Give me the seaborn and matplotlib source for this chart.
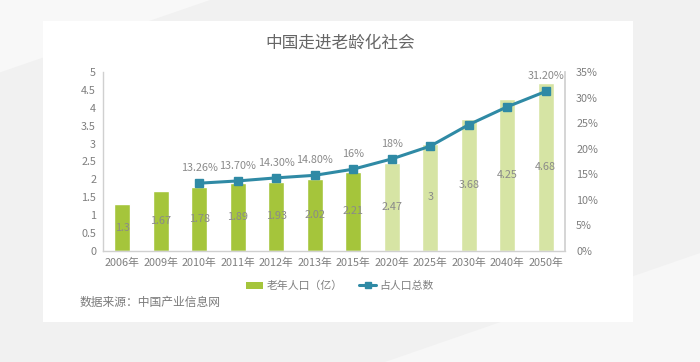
import matplotlib
matplotlib.use("Agg")
import matplotlib.pyplot as plt
import seaborn as sns
import numpy as np
from matplotlib.patches import Rectangle, Polygon
from matplotlib.lines import Line2D

years = ["2006年", "2009年", "2010年", "2011年", "2012年", "2013年", "2015年",
         "2020年", "2025年", "2030年", "2040年", "2050年"]
elderly = [1.3, 1.67, 1.78, 1.89, 1.93, 2.02, 2.21, 2.47, 3, 3.68, 4.25, 4.68]
pct_years = ["2010年", "2011年", "2012年", "2013年", "2015年",
             "2020年", "2025年", "2030年", "2040年", "2050年"]
pct = [13.26, 13.70, 14.30, 14.80, 16, 18, 20.5, 24.7, 28.2, 31.2]
pct_labels = ["13.26%", "13.70%", "14.30%", "14.80%", "16%", "18%", "", "", "", "31.20%"]

sns.set_theme(style="white")
plt.rcParams['font.family'] = ['Noto Sans CJK SC', 'DejaVu Sans']

dark = "#a5c53b"
light = "#d6e4a4"
line_c = "#2f8aa5"
txt = "#7f7f7f"
colors = [dark] * 7 + [light] * 5
fs = 7.8

fig = plt.figure(figsize=(7, 3.62), dpi=100)
fig.patch.set_facecolor("#f1f1f1")
fig.patches.append(Polygon([[0, 1], [0.3, 1], [0.0, 0.8]], closed=True, transform=fig.transFigure,
                           facecolor="#f8f8f8", edgecolor="none", zorder=0))
fig.patches.append(Polygon([[0.55, 0], [1, 0], [1, 0.3]], closed=True, transform=fig.transFigure,
                           facecolor="#f7f7f7", edgecolor="none", zorder=0))
fig.patches.append(Rectangle((43 / 700, 1 - 322 / 362), (633 - 43) / 700, (322 - 21) / 362,
                             transform=fig.transFigure, facecolor="white", edgecolor="none", zorder=1))

ax = fig.add_axes([103 / 700, 1 - 251 / 362, (565 - 103) / 700, (251 - 72) / 362])
ax.set_facecolor("none")
ax.set_zorder(2)

sns.barplot(x=years, y=elderly, hue=years, palette=colors, legend=False, ax=ax,
            width=0.42, saturation=1)

for i, v in enumerate(elderly):
    ax.text(i, v / 2, f"{v:g}", ha="center", va="center", fontsize=fs, color="#8a8a8a")

ax.set_ylim(0, 5)
ax.set_xlim(-0.5, len(years) - 0.5)
ax.set_yticks(np.arange(0, 5.01, 0.5))
ax.set_yticklabels([f"{t:g}" for t in np.arange(0, 5.01, 0.5)])
ax.tick_params(axis="both", labelsize=fs, colors=txt, length=0, pad=5)
for s in ["top", "right"]:
    ax.spines[s].set_visible(False)
for s in ["left", "bottom"]:
    ax.spines[s].set_color("#d0d0d0")
    ax.spines[s].set_linewidth(1)
ax.set_xlabel("")
ax.set_ylabel("")

ax2 = ax.twinx()
idx = [years.index(y) for y in pct_years]
ax2.plot(idx, pct, color=line_c, linewidth=2.2, marker="s", markersize=5.5,
         markerfacecolor=line_c, markeredgecolor=line_c, zorder=5)
for i, v, lab in zip(idx, pct, pct_labels):
    if lab:
        ax2.text(i, v + 2.0, lab, ha="center", va="bottom", fontsize=fs, color="#8a8a8a")
ax2.set_ylim(0, 35)
ax2.set_yticks(np.arange(0, 36, 5))
ax2.set_yticklabels([f"{t}%" for t in range(0, 36, 5)])
ax2.tick_params(axis="y", labelsize=fs, colors=txt, length=0, pad=8)
for s in ["top", "left", "bottom"]:
    ax2.spines[s].set_visible(False)
ax2.spines["right"].set_color("#d0d0d0")
ax2.set_ylabel("")

fig.text(340 / 700, 1 - 43 / 362, "中国走进老龄化社会", ha="center", va="center",
         fontsize=12, color="#666666", zorder=3)

handles = [Rectangle((0, 0), 1, 1, facecolor=dark, edgecolor="none"),
           Line2D([0], [0], color=line_c, linewidth=2.2, marker="s", markersize=5)]
fig.legend(handles, ["老年人口（亿）", "占人口总数"], loc="center",
           bbox_to_anchor=(340 / 700, 1 - 286 / 362), ncol=2, frameon=False,
           fontsize=fs, labelcolor=txt, handlelength=1.6, handletextpad=0.3,
           columnspacing=1.5)

fig.text(80 / 700, 1 - 302 / 362, "数据来源：中国产业信息网", ha="left", va="center",
         fontsize=8.5, color="#7a7a7a", zorder=3)

fig.savefig("out.png", dpi=100, facecolor=fig.get_facecolor())
